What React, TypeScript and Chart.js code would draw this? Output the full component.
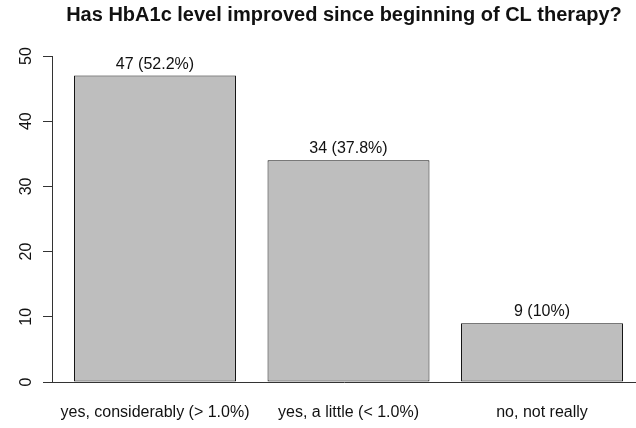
import React, { useEffect, useRef } from "react";
import { Chart, registerables } from "chart.js";

Chart.register(...registerables);

const categories = ["yes, considerably (> 1.0%)", "yes, a little (< 1.0%)", "no, not really"];
const counts = [47, 34, 9];
const valueLabels = ["47 (52.2%)", "34 (37.8%)", "9 (10%)"];
const yTicks = [0, 10, 20, 30, 40, 50];
const titleText = "Has HbA1c level improved since beginning of CL therapy?";

const FONT = "'Liberation Sans', Arial, Helvetica, sans-serif";

const valueLabelPlugin = {
  id: "valueLabels",
  afterDatasetsDraw(chart: any) {
    const ctx = chart.ctx;
    const meta = chart.getDatasetMeta(0);
    ctx.save();
    ctx.font = `16px ${FONT}`;
    ctx.fillStyle = "#111";
    ctx.textAlign = "center";
    ctx.textBaseline = "alphabetic";
    meta.data.forEach((bar: any, i: number) => {
      ctx.fillText(valueLabels[i], bar.x, bar.y - 7);
    });
    ctx.restore();
  },
};

export default function App() {
  const ref = useRef<HTMLCanvasElement | null>(null);
  useEffect(() => {
    if (!ref.current) return;
    const chart = new Chart(ref.current, {
      type: "bar",
      data: {
        datasets: [
          {
            data: counts.map((v, i) => ({ x: i, y: v })),
            backgroundColor: "#bebebe",
            borderColor: "#111",
            borderWidth: 1,
            borderSkipped: false,
            barPercentage: 0.837,
            categoryPercentage: 1,
          },
        ],
      },
      options: {
        animation: false,
        responsive: false,
        layout: { padding: 0 },
        plugins: {
          legend: { display: false },
          tooltip: { enabled: false },
          title: {
            display: true,
            text: titleText,
            fullSize: false,
            color: "#111",
            font: { family: FONT, size: 20, weight: "bold" },
            padding: { top: 3, bottom: 29 },
          },
        },
        scales: {
          x: {
            type: "linear",
            offset: false,
            min: -0.5323,
            max: 2.4858,
            grid: { display: false, drawTicks: false, offset: false },
            border: { display: true, color: "#333", width: 1 },
            afterBuildTicks: (scale: any) => {
              scale.ticks = categories.map((_, i) => ({ value: i }));
            },
            afterFit: (scale: any) => {
              scale.height = 46;
            },
            ticks: {
              callback: (v: any) => categories[v] ?? "",
              color: "#111",
              font: { family: FONT, size: 16 },
              padding: 21,
              maxRotation: 0,
              autoSkip: false,
            },
          },
          y: {
            min: 0,
            max: 50,
            afterBuildTicks: (scale: any) => {
              scale.ticks = yTicks.map((v) => ({ value: v }));
            },
            afterFit: (scale: any) => {
              scale.width = 52;
            },
            grid: {
              display: true,
              drawOnChartArea: false,
              drawTicks: true,
              tickLength: 9,
              color: "#333",
            },
            border: { display: true, color: "#333", width: 1 },
            ticks: {
              color: "#111",
              font: { family: FONT, size: 16 },
              padding: 8,
              minRotation: 90,
              maxRotation: 90,
              crossAlign: "center",
            },
          },
        },
      },
      plugins: [valueLabelPlugin],
    } as any);
    return () => chart.destroy();
  }, []);
  return (
    <div style={{ position: "fixed", left: 0, top: 0, width: 636, height: 428, background: "#fff" }}>
      <canvas ref={ref} width={636} height={428} style={{ display: "block" }} />
    </div>
  );
}
